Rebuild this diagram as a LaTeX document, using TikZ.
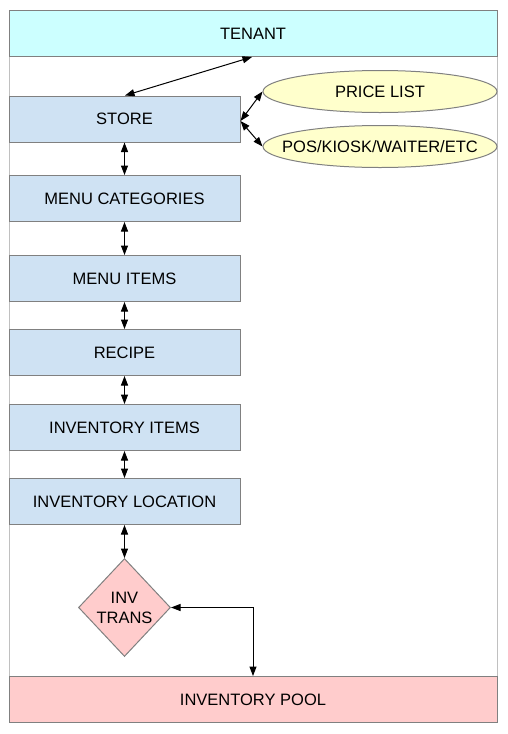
\documentclass[tikz,border=0pt]{standalone}
\usepackage{fontspec}
\setmainfont{Liberation Sans}
\usetikzlibrary{arrows.meta,shapes.geometric}
\definecolor{tenantc}{HTML}{CCFFFF}
\definecolor{boxc}{HTML}{CFE2F3}
\definecolor{ellc}{HTML}{FFFFCC}
\definecolor{poolc}{HTML}{FFCCCC}
\definecolor{bordc}{HTML}{808080}
\definecolor{framec}{HTML}{C0C0C0}
\tikzset{
  txt/.style={font=\fontsize{16.5}{20}\selectfont, text=black},
  bluebox/.style={txt, draw=bordc, fill=boxc, line width=1pt, minimum width=231pt, minimum height=46pt, inner sep=0pt},
  widebox/.style={txt, draw=bordc, line width=1pt, minimum width=488pt, minimum height=46pt, inner sep=0pt},
  ell/.style={ellipse, draw=bordc, fill=ellc, line width=1pt, minimum width=234pt, minimum height=42pt, inner sep=0pt},
  elltext/.style={txt, inner sep=0pt},
  dia/.style={txt, diamond, draw=bordc, fill=poolc, line width=1pt, minimum width=92pt, minimum height=98pt, inner sep=0pt, align=center},
  conn/.style={line width=1pt, {Triangle[length=9.5pt,width=7pt]}-{Triangle[length=9.5pt,width=7pt]}}
}
\begin{document}
\begin{tikzpicture}[x=1pt,y=-1pt]
\useasboundingbox (0,0) rectangle (507,734);
\draw[framec, line width=1pt] (9,10) rectangle (497,722);
\node[widebox, fill=tenantc] (tenant) at (253,33.5) {TENANT};
\node[widebox, fill=poolc] (pool) at (253,699.5) {INVENTORY POOL};
\node[bluebox] (store) at (124.5,119) {STORE};
\node[bluebox] (cat) at (124.5,198.5) {MENU CATEGORIES};
\node[bluebox] (items) at (124.5,278.5) {MENU ITEMS};
\node[bluebox] (recipe) at (124.5,352.5) {RECIPE};
\node[bluebox] (invitems) at (124.5,427.5) {INVENTORY ITEMS};
\node[bluebox] (invloc) at (124.5,501.5) {INVENTORY LOCATION};
\node[ell] (price) at (380,91.5) {};
\node[elltext] (pricet) at (price.center) {PRICE LIST};
\node[ell] (pos) at (380,146.5) {};
\node[elltext] (post) at (pos.center) {POS/KIOSK/WAITER/ETC};
\node[dia] (trans) at (124.5,607.5) {INV\\TRANS};
\coordinate (tb) at (252,56.5);
\coordinate (st) at (125,96);
\coordinate (sr) at (240.5,121);
\coordinate (turn) at (253,607.5);
\draw[conn] (tenant.south -| tb) -- (store.north -| st);
\draw[conn] (sr) -- (price.west);
\draw[conn] (sr) -- (pos.west);
\draw[conn] (store) -- (cat);
\draw[conn] (cat) -- (items);
\draw[conn] (items) -- (recipe);
\draw[conn] (recipe) -- (invitems);
\draw[conn] (invitems) -- (invloc);
\draw[conn] (invloc) -- (trans);
\draw[conn] (trans.east) -- (turn) -- (pool.north -| turn);
\end{tikzpicture}
\end{document}
